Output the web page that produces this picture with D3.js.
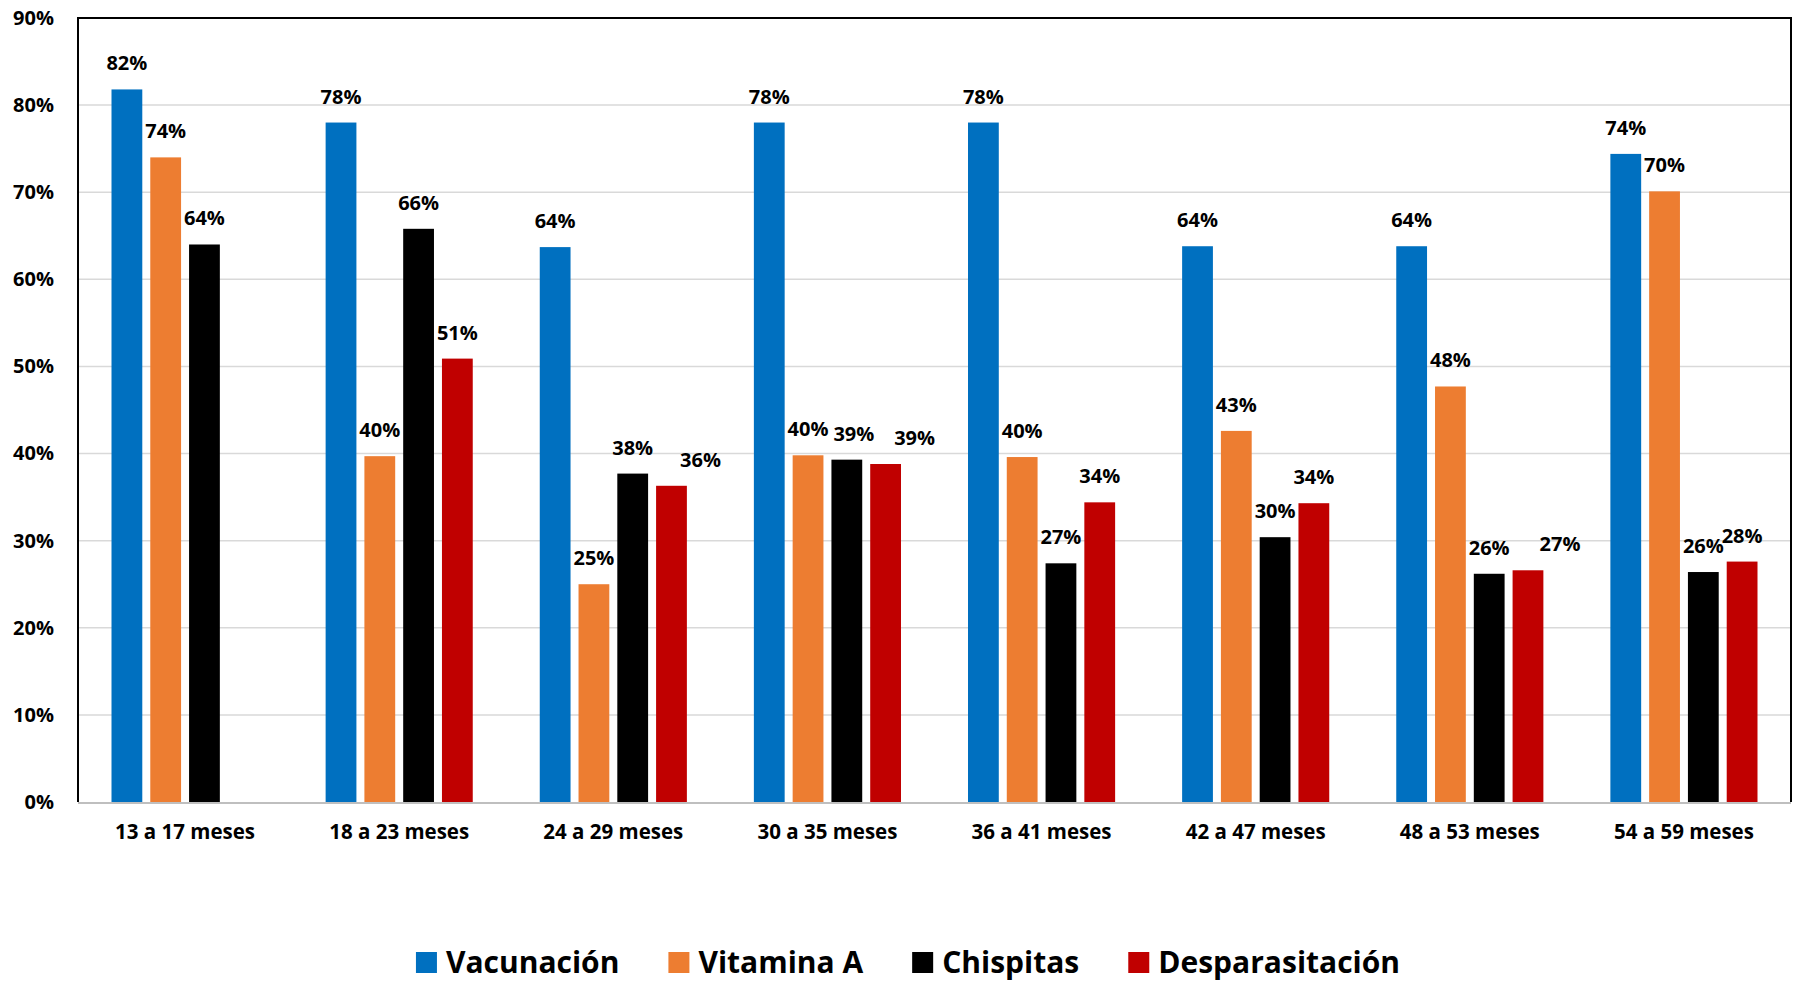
<!DOCTYPE html>
<html>
<head>
<meta charset="utf-8">
<script src="https://cdn.jsdelivr.net/npm/d3@7"></script>
<style>
  body { margin: 0; background: #fff; }
  text { font-family: "Open Sans", sans-serif; font-weight: bold; fill: #000; }
</style>
</head>
<body>
<div id="container"></div>
<script>
// data
const categories = ["13 a 17 meses", "18 a 23 meses", "24 a 29 meses", "30 a 35 meses",
                    "36 a 41 meses", "42 a 47 meses", "48 a 53 meses", "54 a 59 meses"];
const seriesNames = ["Vacunación", "Vitamina A", "Chispitas", "Desparasitación"];
const vacunacion      = [0.818, 0.780, 0.637, 0.780, 0.780, 0.638, 0.638, 0.744];
const vitaminaA       = [0.740, 0.397, 0.250, 0.398, 0.396, 0.426, 0.477, 0.701];
const chispitas       = [0.640, 0.658, 0.377, 0.393, 0.274, 0.304, 0.262, 0.264];
const desparasitacion = [null,  0.509, 0.363, 0.388, 0.344, 0.343, 0.266, 0.276];
const yTicks = [0, 0.1, 0.2, 0.3, 0.4, 0.5, 0.6, 0.7, 0.8, 0.9];

const colors = ["#0070C0", "#ED7D31", "#000000", "#C00000"];
const allSeries = [vacunacion, vitaminaA, chispitas, desparasitacion];

// labels that were dragged sideways in the original
const labelNudge = { "2-3": 29, "3-2": 7, "3-3": 29, "6-3": 32 };

const width = 1799, height = 982;
const margins = { top: 18, bottom: 180, left: 78, right: 8 };

const svg = d3.select("#container").append("svg")
    .attr("width", width).attr("height", height)
    .attr("viewBox", `0 0 ${width} ${height}`);

const x0 = d3.scaleBand()
    .domain(categories)
    .range([margins.left, width - margins.right]);

const x1 = d3.scaleBand()
    .domain(seriesNames)
    .range([33.5, x0.bandwidth() - 33.5])
    .paddingInner(0.206);

const y = d3.scaleLinear()
    .domain([0, 0.9])
    .range([height - margins.bottom, margins.top]);

// gridlines
svg.append("g")
    .selectAll("line")
    .data(yTicks.slice(1))
    .enter().append("line")
    .attr("x1", margins.left).attr("x2", width - margins.right)
    .attr("y1", d => y(d)).attr("y2", d => y(d))
    .attr("stroke", "#d9d9d9").attr("stroke-width", 1.5);

// y axis labels
const yAxis = d3.axisLeft(y).tickValues(yTicks).tickFormat(d3.format(".0%")).tickSize(0).tickPadding(24);
svg.append("g")
    .attr("transform", `translate(${margins.left},0)`)
    .call(yAxis)
    .call(g => g.select(".domain").remove())
    .selectAll("text")
    .style("font-family", "Open Sans")
    .style("font-weight", "bold")
    .style("font-size", "20px");

// bars
const rows = [];
categories.forEach((c, i) => {
    seriesNames.forEach((s, j) => {
        if (allSeries[j][i] != null) rows.push({ cat: c, ser: s, ci: i, si: j, v: allSeries[j][i] });
    });
});

svg.append("g")
    .selectAll("rect")
    .data(rows)
    .enter().append("rect")
    .attr("x", d => x0(d.cat) + x1(d.ser))
    .attr("y", d => y(d.v))
    .attr("width", x1.bandwidth())
    .attr("height", d => y(0) - y(d.v))
    .attr("fill", d => colors[d.si]);

// value labels
svg.append("g")
    .selectAll("text")
    .data(rows)
    .enter().append("text")
    .attr("x", d => x0(d.cat) + x1(d.ser) + x1.bandwidth() / 2 + (labelNudge[d.ci + "-" + d.si] || 0))
    .attr("y", d => y(d.v) - 19)
    .attr("text-anchor", "middle")
    .style("font-size", "20px")
    .text(d => d3.format(".0%")(d.v));

// plot frame: black top/left/right, grey axis at the bottom
svg.append("path")
    .attr("d", `M${margins.left},${y(0)}V${margins.top}H${width - margins.right}V${y(0)}`)
    .attr("fill", "none").attr("stroke", "#000").attr("stroke-width", 2);
svg.append("line")
    .attr("x1", margins.left).attr("x2", width - margins.right)
    .attr("y1", y(0) + 1).attr("y2", y(0) + 1)
    .attr("stroke", "#bfbfbf").attr("stroke-width", 2);

// category labels
svg.append("g")
    .selectAll("text")
    .data(categories)
    .enter().append("text")
    .attr("x", d => x0(d) + x0.bandwidth() / 2)
    .attr("y", 839)
    .attr("text-anchor", "middle")
    .style("font-size", "20.5px")
    .text(d => d);

// legend
const legend = svg.append("g");
let lx = 0;
seriesNames.forEach((s, j) => {
    const item = legend.append("g").attr("transform", `translate(${lx},0)`);
    item.append("rect").attr("x", 0).attr("y", 952).attr("width", 21).attr("height", 21).attr("fill", colors[j]);
    const t = item.append("text").attr("x", 30).attr("y", 973).style("font-size", "30px").text(s);
    lx += 30 + t.node().getComputedTextLength() + 49;
});
const legendWidth = lx - 49;
legend.attr("transform", `translate(${908 - legendWidth / 2},0)`);
</script>
</body>
</html>
